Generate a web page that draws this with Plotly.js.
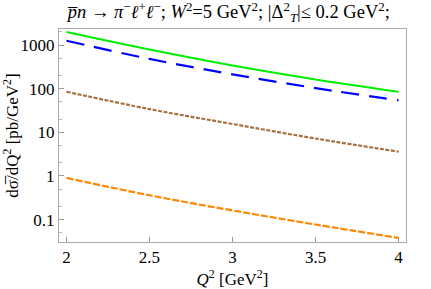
<!DOCTYPE html>
<html>
<head>
<meta charset="utf-8">
<script src="https://cdn.plot.ly/plotly-3.0.1.min.js"></script>
<style>html,body{margin:0;padding:0;background:#fff;}#chart{width:431px;height:289px;}</style>
</head>
<body>
<div id="chart"></div>
<script>
const q2 = [2, 2.5, 3, 3.5, 4];
const seriesGreen  = [1990, 790, 340, 163, 85];
const seriesBlue   = [1255, 480, 213, 103, 54];
const seriesBrown  = [85, 34, 15.5, 7.2, 3.6];
const seriesOrange = [0.9, 0.36, 0.162, 0.077, 0.038];
const xTickVals = [2, 2.5, 3, 3.5, 4];
const xTickText = ['2', '2.5', '3', '3.5', '4'];
const yTickVals = [0.1, 1, 10, 100, 1000];
const yTickText = ['0.1', '1', '10', '100', '1000'];

const font = 'Times New Roman, Liberation Serif, serif';
function tr(y, color, dash, width) {
  return {x: q2, y: y, type: 'scatter', mode: 'lines',
    line: {color: color, dash: dash, width: width, shape: 'spline'},
    hoverinfo: 'skip', showlegend: false};
}
const data = [
  tr(seriesGreen, '#00ee00', 'solid', 2),
  tr(seriesBlue, '#0000ff', '18px,10px', 2.2),
  tr(seriesBrown, 'rgb(165,115,65)', '4px,1.5px', 2.2),
  tr(seriesOrange, '#ff8800', '7px,2px', 2.2)
];
const layout = {
  width: 431, height: 289,
  margin: {l: 59, r: 25, t: 29, b: 47},
  paper_bgcolor: '#fff', plot_bgcolor: '#fff',
  font: {family: font, size: 17, color: '#000'},
  title: {
    text: '<i>p̅n</i> → <i>π</i><sup>−</sup><i>ℓ</i><sup>+</sup><i>ℓ</i><sup>−</sup>; <i>W</i><sup>2</sup>=5 GeV<sup>2</sup>; |Δ<sup>2</sup><sub><i>T</i></sub>|≤ 0.2 GeV<sup>2</sup>;',
    font: {family: font, size: 18.5, color: '#000'},
    xref: 'container', x: 0.531, xanchor: 'center',
    yref: 'container', y: 1 - 12/289, yanchor: 'middle'
  },
  xaxis: {
    range: [1.955, 4.045],
    tickvals: xTickVals, ticktext: xTickText,
    ticks: 'inside', ticklen: 5, tickcolor: '#999', tickwidth: 1,
    showline: true, linecolor: '#aaa', linewidth: 1, mirror: true,
    showgrid: false, zeroline: false, automargin: false,
    tickfont: {family: font, size: 17},
    title: {text: '<i>Q</i><sup>2</sup> [GeV<sup>2</sup>]', font: {family: font, size: 17}, standoff: 18}
  },
  yaxis: {
    type: 'log',
    range: [-1.514, 3.367],
    tickvals: yTickVals, ticktext: yTickText,
    ticks: 'inside', ticklen: 5, tickcolor: '#999', tickwidth: 1,
    minor: {ticks: 'inside', ticklen: 3, tickcolor: '#bbb', dtick: 'D2', showgrid: false},
    showline: true, linecolor: '#aaa', linewidth: 1, mirror: true,
    showgrid: false, zeroline: false, automargin: false,
    tickfont: {family: font, size: 17},
    title: {text: 'dσ̅/dQ<sup>2</sup> [pb/GeV<sup>2</sup>]', font: {family: font, size: 17}, standoff: 2}
  }
};
Plotly.newPlot('chart', data, layout, {displayModeBar: false, staticPlot: true});
</script>
</body>
</html>
